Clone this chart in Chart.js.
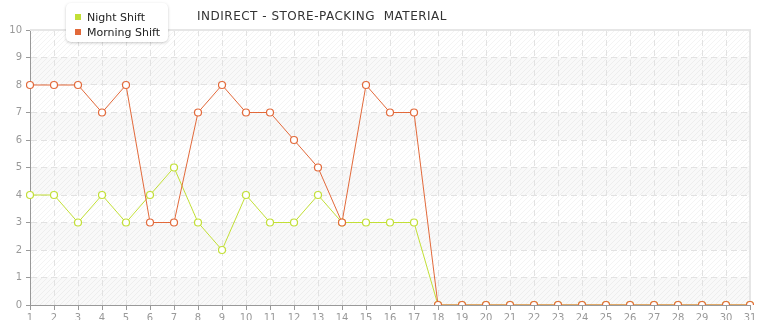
<!DOCTYPE html>
<html>
<head>
<meta charset="utf-8">
<script src="https://cdn.jsdelivr.net/npm/chart.js@4"></script>
<style>
  html, body { margin:0; padding:0; background:#fff; width:765px; height:320px; overflow:hidden; }
  #wrap { position:relative; width:765px; height:320px; }
  #title { position:absolute; left:197px; top:9px; font:12px "DejaVu Sans", Verdana, sans-serif; letter-spacing:0.5px; color:#333; white-space:pre; }
  #legend { position:absolute; left:66px; top:3px; width:102px; height:39px; background:#fff; border-radius:5px;
            box-shadow:0 1px 3px rgba(0,0,0,0.22); z-index:2; font:11px "DejaVu Sans", Verdana, sans-serif; color:#222; }
  .li { position:absolute; left:9px; white-space:nowrap; }
  .sw { display:inline-block; width:6px; height:6px; margin-right:6px; vertical-align:1px; }
</style>
</head>
<body>
<div id="wrap">
  <canvas id="c" width="765" height="320"></canvas>
  <div id="title">INDIRECT - STORE-PACKING  MATERIAL</div>
  <div id="legend"></div>
</div>
<script>
const days = ['1','2','3','4','5','6','7','8','9','10','11','12','13','14','15','16','17','18','19','20','21','22','23','24','25','26','27','28','29','30','31'];
const nightShift   = [4,4,3,4,3,4,5,3,2,4,3,3,4,3,3,3,3,0,0,0,0,0,0,0,0,0,0,0,0,0,0];
const morningShift = [8,8,8,7,8,3,3,7,8,7,7,6,5,3,8,7,7,0,0,0,0,0,0,0,0,0,0,0,0,0,0];
const seriesNames = ['Night Shift','Morning Shift'];
const seriesColors = ['#c2df36','#e2693a'];

// HTML legend
const lg = document.getElementById('legend');
seriesNames.forEach((n,i)=>{
  const d = document.createElement('div');
  d.className='li'; d.style.top = (8 + i*15) + 'px';
  d.innerHTML = '<span class="sw" style="background:'+seriesColors[i]+'"></span>'+n;
  lg.appendChild(d);
});

// hatch pattern
const pc = document.createElement('canvas'); pc.width=5; pc.height=5;
const px = pc.getContext('2d');
px.strokeStyle='rgba(0,0,0,0.045)'; px.lineWidth=1;
px.beginPath(); px.moveTo(-1,6); px.lineTo(6,-1); px.stroke();
px.beginPath(); px.moveTo(-1,1); px.lineTo(1,-1); px.stroke();
px.beginPath(); px.moveTo(4,6); px.lineTo(6,4); px.stroke();

const bgPlugin = {
  id:'bg',
  beforeDraw(chart){
    const {ctx, chartArea:a, scales:{y}} = chart;
    const pat = ctx.createPattern(pc,'repeat');
    ctx.save();
    for(let i=0;i<10;i++){
      const top = y.getPixelForValue(i+1), bot = y.getPixelForValue(i);
      if(i%2===0){ ctx.fillStyle='#f9f9f9'; ctx.fillRect(a.left,top,a.right-a.left,bot-top); }
      ctx.fillStyle=pat; ctx.fillRect(a.left,top,a.right-a.left,bot-top);
    }
    ctx.restore();
  },
  beforeDatasetsDraw(chart){
    const {ctx, chartArea:a} = chart;
    ctx.save();
    ctx.strokeStyle='#e6e6e6'; ctx.lineWidth=2;
    ctx.beginPath(); ctx.moveTo(a.left,a.top); ctx.lineTo(a.right,a.top); ctx.lineTo(a.right,a.bottom); ctx.stroke();
    ctx.restore();
  }
};

const mk = (label,data,color)=>({
  label, data, borderColor:color, backgroundColor:'#fff',
  borderWidth:1, pointRadius:3.5, pointBorderWidth:1.2, pointBackgroundColor:'#fff',
  pointBorderColor:color, tension:0, fill:false
});

new Chart(document.getElementById('c'),{
  type:'line',
  data:{ labels:days, datasets:[
    mk(seriesNames[1], morningShift, seriesColors[1]),
    mk(seriesNames[0], nightShift, seriesColors[0])
  ]},
  options:{
    responsive:false, animation:false, events:[],
    layout:{ padding:{ top:30, right:15, left:0, bottom:0 } },
    plugins:{ legend:{display:false}, title:{display:false}, tooltip:{enabled:false} },
    scales:{
      x:{
        offset:false,
        grid:{ color:'#e2e2e2', lineWidth:1, tickLength:5, tickColor:'#999', drawOnChartArea:true },
        border:{ color:'#999', width:1, dash:[6,4] },
        ticks:{ color:'#999', font:{family:'DejaVu Sans', size:10}, padding:2, maxRotation:0, autoSkip:false },
        afterFit(s){ s.height = 15; }
      },
      y:{
        min:0, max:10,
        grid:{ color:'#e2e2e2', lineWidth:1, tickLength:4, tickColor:'#999' },
        border:{ color:'#999', width:1, dash:[6,4] },
        ticks:{ stepSize:1, color:'#999', font:{family:'DejaVu Sans', size:10}, padding:4 },
        afterFit(s){ s.width = 30; }
      }
    }
  },
  plugins:[bgPlugin]
});
</script>
</body>
</html>
